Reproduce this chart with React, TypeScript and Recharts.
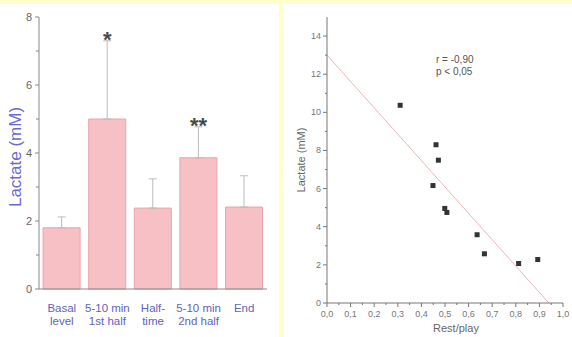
import React from "react";
import {
  BarChart,
  Bar,
  XAxis,
  YAxis,
  ErrorBar,
  ReferenceDot,
  ComposedChart,
  Scatter,
  ReferenceLine,
} from "recharts";

const FONT = "'Liberation Sans', Arial, sans-serif";

// left panel: lactate over the match (mean + SD)
const phases = ["Basal level", "5-10 min 1st half", "Half-time", "5-10 min 2nd half", "End"];
const phaseLines = [["Basal", "level"], ["5-10 min", "1st half"], ["Half-", "time"], ["5-10 min", "2nd half"], ["End"]];
const lactateMean = [1.8, 5.0, 2.38, 3.86, 2.41];
const lactateSd = [0.32, 2.3, 0.86, 0.91, 0.92];
const significance = ["", "*", "", "**", ""];
const barTicks = [0, 1, 2, 3, 4, 5, 6, 7, 8];

// right panel: lactate vs rest/play ratio
const restPlay = [0.31, 0.462, 0.472, 0.449, 0.499, 0.508, 0.636, 0.667, 0.812, 0.893];
const lactatePlayer = [10.37, 8.3, 7.49, 6.16, 4.96, 4.75, 3.58, 2.58, 2.07, 2.28];
const fitStart = { x: 0, y: 13.0 };
const fitEnd = { x: 0.94, y: 0 };
const scatterYTicks = [0, 1, 2, 3, 4, 5, 6, 7, 8, 9, 10, 11, 12, 13, 14];
const scatterXTicks = [
  0, 0.05, 0.1, 0.15, 0.2, 0.25, 0.3, 0.35, 0.4, 0.45, 0.5,
  0.55, 0.6, 0.65, 0.7, 0.75, 0.8, 0.85, 0.9, 0.95, 1.0,
];

const barData = phases.map((name, i) => ({
  name,
  mean: lactateMean[i],
  sd: [0, lactateSd[i]],
}));

const scatterData = restPlay.map((x, i) => ({ x, y: lactatePlayer[i] }));

const BarYTick = (props: any) => {
  const { x, y, payload } = props;
  const major = payload.value % 2 === 0;
  return (
    <g>
      <line x1={x - (major ? 4 : 3)} x2={x} y1={y} y2={y} stroke="#888" />
      {major && (
        <text x={x - 7} y={y} textAnchor="end" dominantBaseline="central" fontSize={11} fill="#666" fontFamily={FONT}>
          {payload.value}
        </text>
      )}
    </g>
  );
};

const BarXTick = (props: any) => {
  const { x, y, index } = props;
  const lines = phaseLines[index] || [];
  return (
    <g>
      {lines.map((ln, k) => (
        <text key={k} x={x} y={y + 17 + k * 13} textAnchor="middle" dominantBaseline="central" fontSize={11.5} fill="#6262bc" fontFamily={FONT}>
          {ln}
        </text>
      ))}
    </g>
  );
};

const ScatterYTick = (props: any) => {
  const { x, y, payload } = props;
  const major = payload.value % 2 === 0;
  return (
    <g>
      <line x1={x - (major ? 4 : 2)} x2={x} y1={y} y2={y} stroke="#777" />
      {major && (
        <text x={x - 6} y={y} textAnchor="end" dominantBaseline="central" fontSize={9} fill="#777" fontFamily={FONT}>
          {payload.value}
        </text>
      )}
    </g>
  );
};

const ScatterXTick = (props: any) => {
  const { x, y, payload } = props;
  const major = Math.round(payload.value * 100) % 10 === 0;
  return (
    <g>
      <line x1={x} x2={x} y1={y} y2={y + (major ? 4 : 2)} stroke="#777" />
      {major && (
        <text x={x} y={y + 11} textAnchor="middle" dominantBaseline="central" fontSize={9} fill="#777" fontFamily={FONT}>
          {payload.value.toFixed(1).replace(".", ",")}
        </text>
      )}
    </g>
  );
};

const SquareDot = (props: any) => {
  const { cx, cy } = props;
  return <rect x={cx - 2.5} y={cy - 2.5} width={5} height={5} fill="#333" />;
};

const StarLabel = (text: string) => (props: any) => {
  const { viewBox } = props;
  const cx = viewBox.cx ?? viewBox.x;
  const cy = viewBox.cy ?? viewBox.y;
  return (
    <text x={cx} y={cy + 6} textAnchor="middle" fontSize={22} fontWeight="bold" fill="#4a4a4a" fontFamily={FONT}>
      {text}
    </text>
  );
};

export default function App() {
  return (
    <div style={{ position: "fixed", left: 0, top: 0, width: 572, height: 337, background: "#FFFFCC" }}>
      <div style={{ position: "absolute", left: 0, top: 4, width: 279, height: 333, background: "#fff" }}>
        <BarChart
          width={279}
          height={333}
          data={barData}
          margin={{ top: 13, right: 12, bottom: 0, left: 0 }}
          barCategoryGap="9%"
        >
          <XAxis
            dataKey="name"
            height={48}
            axisLine={{ stroke: "#888" }}
            tickLine={false}
            tickSize={0}
            tick={<BarXTick />}
            interval={0}
          />
          <YAxis
            width={39}
            domain={[0, 8]}
            ticks={barTicks}
            interval={0}
            axisLine={{ stroke: "#888" }}
            tickLine={false}
            tickSize={0}
            tickMargin={0}
            tick={<BarYTick />}
          />
          <Bar dataKey="mean" fill="#F6C0C4" stroke="#E8A4AC" strokeWidth={1} isAnimationActive={false}>
            <ErrorBar dataKey="sd" width={4} stroke="#bbb" strokeWidth={1} direction="y" />
          </Bar>
          {significance.map((s, i) =>
            s ? (
              <ReferenceDot
                key={i}
                x={phases[i]}
                y={lactateMean[i] + lactateSd[i]}
                r={0}
                fill="none"
                stroke="none"
                label={StarLabel(s)}
              />
            ) : null
          )}
          <text x={15} y={153} transform="rotate(-90 15 153)" textAnchor="middle" dominantBaseline="central" fontSize={17} fill="#6a6ad0" fontFamily={FONT}>
            Lactate (mM)
          </text>
        </BarChart>
      </div>
      <div style={{ position: "absolute", left: 283, top: 4, width: 289, height: 333, background: "#fff" }}>
        <ComposedChart
          width={289}
          height={333}
          margin={{ top: 13, right: 9, bottom: 0, left: 0 }}
        >
          <XAxis
            type="number"
            dataKey="x"
            domain={[0, 1]}
            ticks={scatterXTicks}
            interval={0}
            height={34}
            axisLine={{ stroke: "#777" }}
            tickLine={false}
            tickSize={0}
            tickMargin={0}
            tick={<ScatterXTick />}
          />
          <YAxis
            type="number"
            dataKey="y"
            domain={[0, 15]}
            ticks={scatterYTicks}
            interval={0}
            width={44}
            axisLine={{ stroke: "#777" }}
            tickLine={false}
            tickSize={0}
            tickMargin={0}
            tick={<ScatterYTick />}
          />
          <ReferenceLine segment={[fitStart, fitEnd]} stroke="#EDB4B8" strokeWidth={1} ifOverflow="extendDomain" />
          <Scatter data={scatterData} shape={<SquareDot />} isAnimationActive={false} />
          <text x={153} y={59} fontSize={10} fill="#555" fontFamily={FONT}>r = -0,90</text>
          <text x={153} y={71} fontSize={10} fill="#555" fontFamily={FONT}>p &lt; 0,05</text>
          <text x={18} y={156} transform="rotate(-90 18 156)" textAnchor="middle" dominantBaseline="central" fontSize={11} fill="#666" fontFamily={FONT}>
            Lactate (mM)
          </text>
          <text x={173} y={324} textAnchor="middle" dominantBaseline="central" fontSize={11} fill="#666" fontFamily={FONT}>
            Rest/play
          </text>
        </ComposedChart>
      </div>
    </div>
  );
}
